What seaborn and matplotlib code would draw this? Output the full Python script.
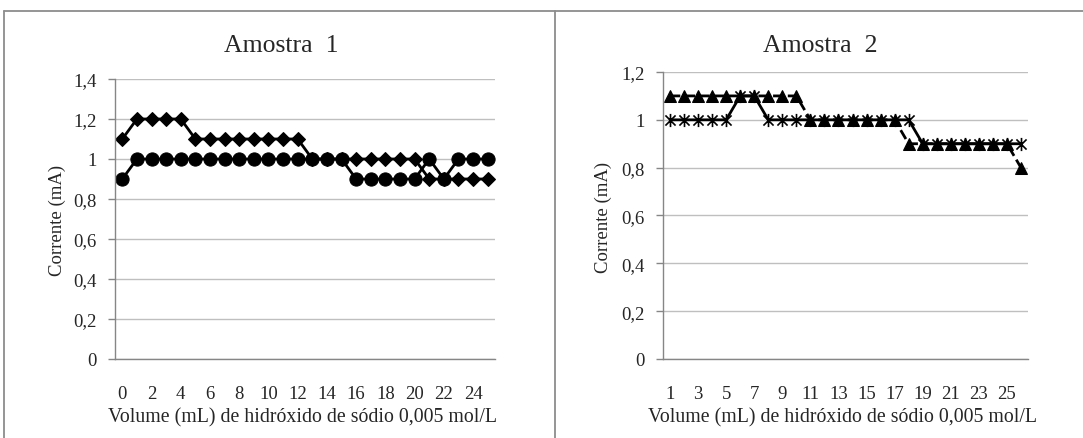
import matplotlib
matplotlib.use("Agg")
import matplotlib.pyplot as plt
import matplotlib.ticker as mticker
from matplotlib.lines import Line2D
from matplotlib.path import Path
import seaborn as sns
import numpy as np

# Data
vol1 = list(range(0, 26))
amostra1_losango = [1.1, 1.2, 1.2, 1.2, 1.2, 1.1, 1.1, 1.1, 1.1, 1.1, 1.1, 1.1, 1.1,
                    1.0, 1.0, 1.0, 1.0, 1.0, 1.0, 1.0, 1.0, 0.9, 0.9, 0.9, 0.9, 0.9]
amostra1_circulo = [0.9, 1.0, 1.0, 1.0, 1.0, 1.0, 1.0, 1.0, 1.0, 1.0, 1.0, 1.0, 1.0,
                    1.0, 1.0, 1.0, 0.9, 0.9, 0.9, 0.9, 0.9, 1.0, 0.9, 1.0, 1.0, 1.0]

vol2 = list(range(1, 27))
amostra2_triangulo = [1.1, 1.1, 1.1, 1.1, 1.1, 1.1, 1.1, 1.1, 1.1, 1.1, 1.0, 1.0, 1.0,
                      1.0, 1.0, 1.0, 1.0, 0.9, 0.9, 0.9, 0.9, 0.9, 0.9, 0.9, 0.9, 0.8]
amostra2_asterisco = [1.0, 1.0, 1.0, 1.0, 1.0, 1.1, 1.1, 1.0, 1.0, 1.0, 1.0, 1.0, 1.0,
                      1.0, 1.0, 1.0, 1.0, 1.0, 0.9, 0.9, 0.9, 0.9, 0.9, 0.9, 0.9, 0.9]

titulos = ["Amostra  1", "Amostra  2"]
xlabel = "Volume (mL) de hidróxido de sódio 0,005 mol/L"
ylabel = "Corrente (mA)"

sns.set_style("white")
plt.rcParams['font.family'] = ['Liberation Serif', 'DejaVu Serif']

W, H = 1083, 439
fig = plt.figure(figsize=(W / 100, H / 100), dpi=100)

grid_col = "#bfbfbf"
axis_col = "#868686"
border_col = "#8c8c8c"

# Excel style asterisk: an X with a vertical bar
asterisco = Path([(-1, -1), (1, 1), (-1, 1), (1, -1), (0, -1.3), (0, 1.3)],
                 [Path.MOVETO, Path.LINETO, Path.MOVETO, Path.LINETO, Path.MOVETO, Path.LINETO])


def px(x, y):
    return x / W, 1 - y / H


def style_axis(ax, xmin, xmax, ymax, label_step):
    ax.set_xlim(xmin - 0.5, xmax + 0.5)
    ax.set_ylim(0, ymax)
    ax.set_yticks(np.arange(0, ymax + 0.01, 0.2))
    ax.yaxis.set_major_formatter(mticker.FuncFormatter(
        lambda v, p: f"{round(v, 1):g}".replace(".", ",")))
    ax.set_xticks(range(xmin, xmax + 1, label_step))
    ax.set_xticks(np.arange(xmin - 0.5, xmax + 0.6, 1), minor=True)
    ax.tick_params(axis="x", which="major", length=0, pad=19, labelsize=13.5)
    ax.tick_params(axis="x", which="minor", length=5, color=axis_col, width=1)
    ax.tick_params(axis="y", length=5, color=axis_col, width=1, pad=8, labelsize=13.5,
                   left=True)
    ax.grid(axis="y", color=grid_col, linewidth=1)
    ax.grid(axis="x", visible=False)
    for s in ["top", "right"]:
        ax.spines[s].set_visible(False)
    for s in ["left", "bottom"]:
        ax.spines[s].set_color(axis_col)
        ax.spines[s].set_linewidth(1)
    ax.set_xlabel("")
    ax.set_ylabel("")
    ax.set_axisbelow(True)


# Amostra 1
ax1 = fig.add_axes([115 / W, (H - 360) / H, 380 / W, 280 / H])
sns.lineplot(x=vol1, y=amostra1_losango, marker="D", markersize=7.5, color="black",
             linewidth=2, markeredgecolor="black", ax=ax1)
sns.lineplot(x=vol1, y=amostra1_circulo, marker="o", markersize=9.5, color="black",
             linewidth=2, markeredgecolor="black", ax=ax1)
style_axis(ax1, 0, 25, 1.4, 2)

# Amostra 2
ax2 = fig.add_axes([663 / W, (H - 360) / H, 365 / W, 287 / H])
sns.lineplot(x=vol2, y=amostra2_triangulo, marker="^", markersize=9, color="black",
             linewidth=2, linestyle="--", markeredgecolor="black", ax=ax2)
sns.lineplot(x=vol2, y=amostra2_asterisco, marker=asterisco, markersize=9.5, color="black",
             linewidth=2, markeredgecolor="black", markeredgewidth=1.2, ax=ax2)
style_axis(ax2, 1, 26, 1.2, 2)

# Titles and axis labels
fig.text(*px(281, 52), titulos[0], ha="center", va="baseline", fontsize=18.5)
fig.text(*px(820, 52), titulos[1], ha="center", va="baseline", fontsize=18.5)
fig.text(*px(303, 422), xlabel, ha="center", va="baseline", fontsize=14.3)
fig.text(*px(842, 422), xlabel, ha="center", va="baseline", fontsize=14.3)
fig.text(*px(57, 220), ylabel, ha="center", va="center", rotation=90, fontsize=13.5)
fig.text(*px(603, 217), ylabel, ha="center", va="center", rotation=90, fontsize=13.5)

# Outer frame and divider
fig.add_artist(Line2D([4 / W, 1], [1 - 12 / H, 1 - 12 / H], color=border_col, linewidth=1.3))
fig.add_artist(Line2D([4 / W, 4 / W], [0, 1 - 12 / H], color=border_col, linewidth=1.3))
fig.add_artist(Line2D([555 / W, 555 / W], [0, 1 - 12 / H], color=border_col, linewidth=1.3))

fig.savefig("out.png", dpi=100)
